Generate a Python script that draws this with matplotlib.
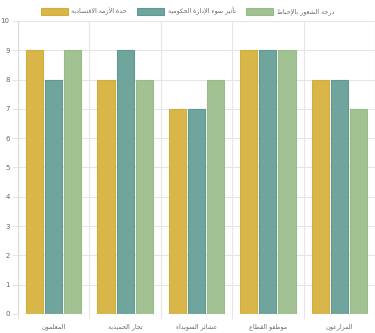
import matplotlib
matplotlib.use("Agg")
import matplotlib.pyplot as plt
import numpy as np

categories = ["المعلمون", "تجار الحميدية", "عشائر السويداء", "موظفو القطاع", "المزارعون"]
series_names = ["حدة الأزمة الاقتصادية", "تأثير سوء الإدارة الحكومية", "درجة الشعور بالإحباط"]
economic = [9, 8, 7, 9, 8]
governance = [8, 9, 7, 9, 8]
frustration = [9, 8, 8, 9, 7]
y_ticks = [0, 1, 2, 3, 4, 5, 6, 7, 8, 9, 10]

fills = ["#D9B64A", "#6FA59D", "#A2C293"]
edges = ["#D4AF37", "#5F9A91", "#98BB88"]

# --- minimal Arabic shaping (presentation forms) + visual ordering ---
FORMS = {
    'ء': (0xFE80, None, None, None),
    'آ': (0xFE81, 0xFE82, None, None),
    'أ': (0xFE83, 0xFE84, None, None),
    'ؤ': (0xFE85, 0xFE86, None, None),
    'إ': (0xFE87, 0xFE88, None, None),
    'ئ': (0xFE89, 0xFE8A, 0xFE8B, 0xFE8C),
    'ا': (0xFE8D, 0xFE8E, None, None),
    'ب': (0xFE8F, 0xFE90, 0xFE91, 0xFE92),
    'ة': (0xFE93, 0xFE94, None, None),
    'ت': (0xFE95, 0xFE96, 0xFE97, 0xFE98),
    'ث': (0xFE99, 0xFE9A, 0xFE9B, 0xFE9C),
    'ج': (0xFE9D, 0xFE9E, 0xFE9F, 0xFEA0),
    'ح': (0xFEA1, 0xFEA2, 0xFEA3, 0xFEA4),
    'خ': (0xFEA5, 0xFEA6, 0xFEA7, 0xFEA8),
    'د': (0xFEA9, 0xFEAA, None, None),
    'ذ': (0xFEAB, 0xFEAC, None, None),
    'ر': (0xFEAD, 0xFEAE, None, None),
    'ز': (0xFEAF, 0xFEB0, None, None),
    'س': (0xFEB1, 0xFEB2, 0xFEB3, 0xFEB4),
    'ش': (0xFEB5, 0xFEB6, 0xFEB7, 0xFEB8),
    'ص': (0xFEB9, 0xFEBA, 0xFEBB, 0xFEBC),
    'ض': (0xFEBD, 0xFEBE, 0xFEBF, 0xFEC0),
    'ط': (0xFEC1, 0xFEC2, 0xFEC3, 0xFEC4),
    'ظ': (0xFEC5, 0xFEC6, 0xFEC7, 0xFEC8),
    'ع': (0xFEC9, 0xFECA, 0xFECB, 0xFECC),
    'غ': (0xFECD, 0xFECE, 0xFECF, 0xFED0),
    'ف': (0xFED1, 0xFED2, 0xFED3, 0xFED4),
    'ق': (0xFED5, 0xFED6, 0xFED7, 0xFED8),
    'ك': (0xFED9, 0xFEDA, 0xFEDB, 0xFEDC),
    'ل': (0xFEDD, 0xFEDE, 0xFEDF, 0xFEE0),
    'م': (0xFEE1, 0xFEE2, 0xFEE3, 0xFEE4),
    'ن': (0xFEE5, 0xFEE6, 0xFEE7, 0xFEE8),
    'ه': (0xFEE9, 0xFEEA, 0xFEEB, 0xFEEC),
    'و': (0xFEED, 0xFEEE, None, None),
    'ى': (0xFEEF, 0xFEF0, None, None),
    'ي': (0xFEF1, 0xFEF2, 0xFEF3, 0xFEF4),
}
LAM_ALEF = {'آ': (0xFEF5, 0xFEF6), 'أ': (0xFEF7, 0xFEF8),
            'إ': (0xFEF9, 0xFEFA), 'ا': (0xFEFB, 0xFEFC)}


def shape(text):
    units = []
    i = 0
    while i < len(text):
        c = text[i]
        if c == 'ل' and i + 1 < len(text) and text[i + 1] in LAM_ALEF:
            units.append(('LA', text[i + 1]))
            i += 2
        else:
            units.append(('C', c))
            i += 1

    def joins_next(u):
        if u[0] == 'LA':
            return False
        f = FORMS.get(u[1])
        return f is not None and f[2] is not None

    def joins_prev(u):
        if u[0] == 'LA':
            return True
        f = FORMS.get(u[1])
        return f is not None and f[1] is not None

    out = []
    for k, u in enumerate(units):
        prev_c = k > 0 and joins_next(units[k - 1]) and joins_prev(u)
        next_c = k + 1 < len(units) and joins_next(u) and joins_prev(units[k + 1])
        if u[0] == 'LA':
            iso, fin = LAM_ALEF[u[1]]
            out.append(chr(fin if prev_c else iso))
            continue
        f = FORMS.get(u[1])
        if f is None:
            out.append(u[1])
            continue
        if prev_c and next_c:
            cp = f[3]
        elif prev_c:
            cp = f[1]
        elif next_c:
            cp = f[2]
        else:
            cp = f[0]
        out.append(chr(cp))
    return ''.join(reversed(out))


plt.rcParams['font.family'] = ['DejaVu Sans']

W, H = 375, 333
fig = plt.figure(figsize=(W / 100, H / 100), dpi=100)
left, right, top, bottom = 18, 375, 21, 314
ax = fig.add_axes([left / W, 1 - bottom / H, (right - left) / W, (bottom - top) / H])

x = np.arange(len(categories))
cat_w = 0.8
slot = cat_w / 3
bar_w = slot * 0.9
data = [economic, governance, frustration]
for j, vals in enumerate(data):
    offs = -cat_w / 2 + slot * (j + 0.5)
    ax.bar(x + offs, vals, width=bar_w, color=fills[j], edgecolor=edges[j],
           linewidth=0.8, label=shape(series_names[j]), zorder=3)

ax.set_xlim(-0.5, len(categories) - 0.5)
ax.set_ylim(0, 10)
ax.set_yticks(y_ticks)
ax.set_yticklabels([str(t) for t in y_ticks])
ax.set_xticks(x)
ax.set_xticklabels([shape(c) for c in categories])

for t in y_ticks:
    ax.axhline(t, color="#e6e6e6", linewidth=0.8, zorder=0)
for b in np.arange(-0.5, len(categories), 1.0):
    ax.axvline(b, color="#e6e6e6", linewidth=0.8, zorder=0)
    ax.plot([b, b], [0, -0.13], color="#e6e6e6", linewidth=0.8, clip_on=False)

for s in ax.spines.values():
    s.set_visible(False)
ax.axvline(-0.5, color="#d9d9d9", linewidth=0.8, zorder=1)
ax.axhline(0, color="#d9d9d9", linewidth=0.8, zorder=4)

ax.tick_params(axis='y', length=4, color="#e6e6e6", labelsize=5, labelcolor="#666666", pad=2)
ax.tick_params(axis='x', length=0, labelsize=4.6, labelcolor="#666666", pad=7)

leg = fig.legend(loc='center', bbox_to_anchor=(0.5, 1 - 11 / H), ncol=3, frameon=False,
                 fontsize=4.6, handlelength=4.2, handleheight=1.4, handletextpad=0.6,
                 columnspacing=1.6, labelcolor="#666666")

fig.savefig("out.png", dpi=100)
